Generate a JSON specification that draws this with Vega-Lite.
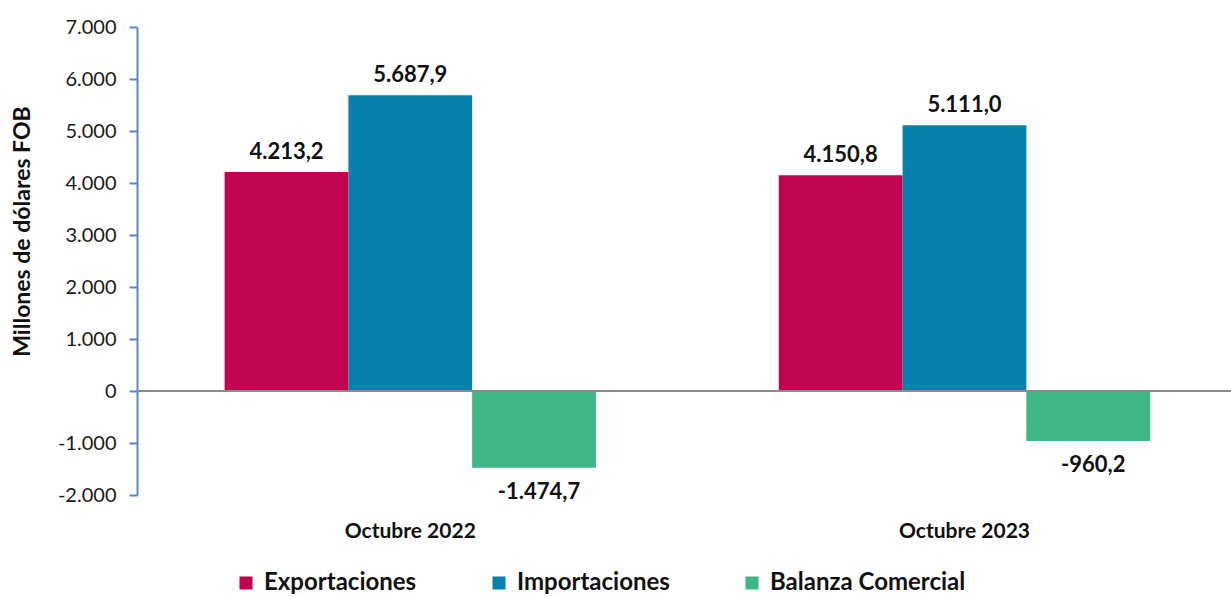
{
  "$schema": "https://vega.github.io/schema/vega-lite/v6.json",
  "width": 1094,
  "height": 468,
  "autosize": {"type": "none"},
  "padding": {"left": 137, "top": 27, "right": 0, "bottom": 102},
  "background": "white",
  "data": {
    "values": [
      {"periodo": "Octubre 2022", "serie": "Exportaciones", "valor": 4213.2},
      {"periodo": "Octubre 2022", "serie": "Importaciones", "valor": 5687.9},
      {"periodo": "Octubre 2022", "serie": "Balanza Comercial", "valor": -1474.7},
      {"periodo": "Octubre 2023", "serie": "Exportaciones", "valor": 4150.8},
      {"periodo": "Octubre 2023", "serie": "Importaciones", "valor": 5111.0},
      {"periodo": "Octubre 2023", "serie": "Balanza Comercial", "valor": -960.2}
    ]
  },
  "encoding": {
    "x": {
      "field": "periodo",
      "type": "nominal",
      "scale": {"paddingInner": 0.33, "paddingOuter": 0.152, "align": 0.52},
      "axis": {
        "title": null,
        "domain": false,
        "ticks": false,
        "labelAngle": 0,
        "labelFont": "Lato",
        "labelFontWeight": "bold",
        "labelFontSize": 21,
        "labelColor": "#111111",
        "labelPadding": 25
      }
    },
    "xOffset": {
      "field": "serie",
      "type": "nominal",
      "sort": ["Exportaciones", "Importaciones", "Balanza Comercial"],
      "scale": {"paddingInner": 0, "paddingOuter": 0}
    },
    "y": {
      "field": "valor",
      "type": "quantitative",
      "scale": {"domain": [-2000, 7000], "nice": false, "zero": false},
      "axis": {
        "title": "Millones de dólares FOB",
        "titleFont": "Lato",
        "titleFontWeight": "bold",
        "titleFontSize": 23,
        "titleColor": "#111111",
        "titleX": -115,
        "titleY": 204,
        "titleAngle": -90,
        "titleBaseline": "middle",
        "values": [-2000, -1000, 0, 1000, 2000, 3000, 4000, 5000, 6000, 7000],
        "format": ",d",
        "grid": false,
        "domainColor": "#5B87C6",
        "domainWidth": 2,
        "tickColor": "#5B87C6",
        "tickWidth": 2,
        "tickSize": 8,
        "labelFont": "Lato",
        "labelFontSize": 20,
        "labelColor": "#1a1a1a",
        "labelPadding": 13
      }
    }
  },
  "layer": [
    {
      "mark": {"type": "bar"},
      "encoding": {
        "color": {
          "field": "serie",
          "type": "nominal",
          "sort": ["Exportaciones", "Importaciones", "Balanza Comercial"],
          "scale": {
            "domain": ["Exportaciones", "Importaciones", "Balanza Comercial"],
            "range": ["#C0044F", "#0780AC", "#3FB686"]
          },
          "legend": {
            "title": null,
            "orient": "none",
            "direction": "horizontal",
            "legendX": 97,
            "legendY": 544,
            "symbolType": "square",
            "symbolSize": 170,
            "symbolStrokeWidth": 0,
            "symbolOpacity": 1,
            "labelFont": "Lato",
            "labelFontWeight": "bold",
            "labelFontSize": 24,
            "labelLimit": 400,
            "labelColor": "#111111",
            "labelOffset": 6,
            "columnPadding": 70
          }
        }
      }
    },
    {
      "transform": [{"filter": "datum.valor >= 0"}],
      "mark": {"type": "text", "baseline": "alphabetic", "dy": -13, "font": "Lato", "fontWeight": "bold", "fontSize": 22, "color": "#111111"},
      "encoding": {"text": {"field": "valor", "type": "quantitative", "format": ",.1f"}}
    },
    {
      "transform": [{"filter": "datum.valor < 0"}],
      "mark": {"type": "text", "baseline": "top", "dy": 14, "dx": 5, "font": "Lato", "fontWeight": "bold", "fontSize": 22, "color": "#111111"},
      "encoding": {"text": {"field": "valor", "type": "quantitative", "format": ",.1f"}}
    },
    {
      "mark": {"type": "rule", "color": "#8C8C8C", "strokeWidth": 2},
      "encoding": {"y": {"datum": 0}, "x": {}, "xOffset": {}}
    }
  ],
  "config": {
    "view": {"stroke": null},
    "locale": {
      "number": {
        "decimal": ",",
        "thousands": ".",
        "grouping": [3],
        "currency": ["", ""],
        "minus": "-"
      }
    }
  }
}
